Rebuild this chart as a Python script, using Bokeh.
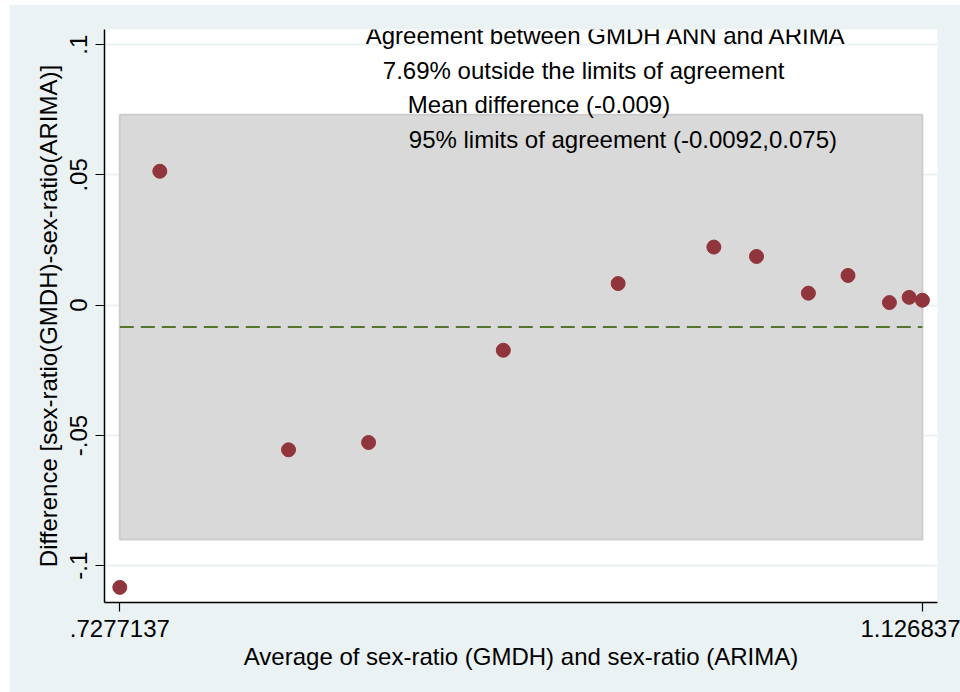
from bokeh.plotting import figure
from bokeh.models import Range1d, FixedTicker, Label
from bokeh.embed import file_html
from bokeh.resources import INLINE

# Data
avg = [0.7277, 0.7476, 0.8116, 0.8514, 0.9184, 0.9755, 1.0231, 1.0443,
       1.0701, 1.0898, 1.1104, 1.1202, 1.1268]
diff = [-0.1083, 0.0514, -0.0555, -0.0527, -0.0173, 0.0083, 0.0223, 0.0187,
        0.0046, 0.0114, 0.0010, 0.0030, 0.0019]
mean_diff = -0.0084
lower_loa = -0.0899
upper_loa = 0.0731

y_ticks = [-0.1, -0.05, 0, 0.05, 0.1]
y_tick_labels = ["-.1", "-.05", "0", ".05", ".1"]
x_ticks = [0.7277137, 1.126837]
x_tick_labels = [".7277137", "1.126837"]

notes = ["Agreement between GMDH ANN and ARIMA",
         "7.69% outside the limits of agreement",
         "Mean difference (-0.009)",
         "95% limits of agreement (-0.0092,0.075)"]
note_x = [0.8500, 0.8585, 0.8709, 0.8714]
note_y = [0.1035, 0.0901, 0.0770, 0.0636]

FONT = "Liberation Sans"
BG = "#EAF2F3"

p = figure(width=950, height=687, output_backend="svg", toolbar_location=None,
           x_range=Range1d(0.72009, 1.13430), y_range=Range1d(-0.1141, 0.1058),
           min_border_left=94, min_border_right=23, min_border_top=24, min_border_bottom=90)
p.margin = (5, 0, 0, 10)
p.border_fill_color = BG
p.styles = {"background-color": BG}
p.background_fill_color = "white"
p.outline_line_color = None

# Axes
p.xaxis.ticker = FixedTicker(ticks=x_ticks)
p.xaxis.major_label_overrides = {t: l for t, l in zip(x_ticks, x_tick_labels)}
p.yaxis.ticker = FixedTicker(ticks=y_ticks)
p.yaxis.major_label_overrides = {t: l for t, l in zip(y_ticks, y_tick_labels)}
p.yaxis.major_label_orientation = "parallel"

for ax in (p.xaxis, p.yaxis):
    ax.axis_line_color = "black"
    ax.axis_line_width = 1.5
    ax.major_tick_line_color = "black"
    ax.major_tick_line_width = 1.2
    ax.major_tick_out = 9
    ax.major_tick_in = 0
    ax.minor_tick_line_color = None
    ax.major_label_text_font = FONT
    ax.major_label_text_font_size = "24px"
    ax.major_label_text_color = "black"
    ax.axis_label_text_font = FONT
    ax.axis_label_text_font_size = "24px"
    ax.axis_label_text_font_style = "normal"
    ax.axis_label_text_color = "black"
    ax.major_label_standoff = 8

p.xaxis.axis_label_standoff = 3
p.yaxis.axis_label_standoff = 6
p.xaxis.axis_label = "Average of sex-ratio (GMDH) and sex-ratio (ARIMA)"
p.yaxis.axis_label = "Difference [sex-ratio(GMDH)-sex-ratio(ARIMA)]"

p.xgrid.grid_line_color = None
p.ygrid.ticker = FixedTicker(ticks=y_ticks)
p.ygrid.grid_line_color = BG
p.ygrid.grid_line_width = 2

# Limits of agreement band
xmin, xmax = min(avg), max(avg)
p.quad(left=[xmin], right=[xmax], bottom=[lower_loa], top=[upper_loa],
       fill_color="#D9D9D9", line_color="#CDCDCD", line_width=2)

# Mean difference line
p.line(x=[xmin, xmax], y=[mean_diff, mean_diff], line_color="#55752F",
       line_width=2, line_dash="14 7")

# Points
p.scatter(x=avg, y=diff, size=14, fill_color="#90353B", line_color="#90353B")

# Notes
for t, xx, yy in zip(notes, note_x, note_y):
    p.add_layout(Label(x=xx, y=yy, text=t, text_font=FONT, text_font_size="24px",
                       text_color="black", text_align="left", text_baseline="middle"))

open("out.html", "w").write(file_html(p, INLINE))
